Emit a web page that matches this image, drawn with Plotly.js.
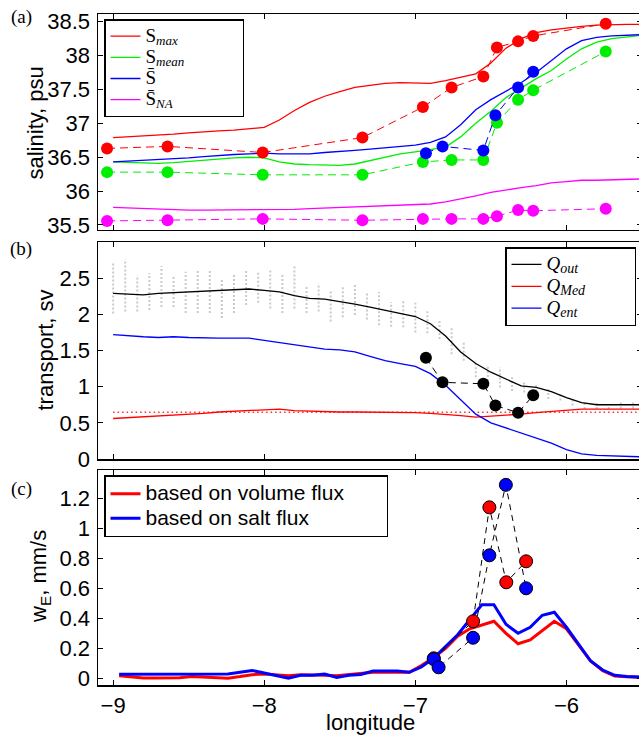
<!DOCTYPE html>
<html><head><meta charset="utf-8">
<script src="https://cdn.plot.ly/plotly-3.0.1.min.js"></script>
<style>html,body{margin:0;padding:0;overflow:hidden;background:#fff}</style>
</head><body><div id="chart" style="width:642px;height:741px"></div>
<script>
// ---------- Panel (a): salinity ----------
const lonLine = [-9.0,-8.9,-8.8,-8.7,-8.6,-8.5,-8.4,-8.3,-8.2,-8.1,-8.0,-7.9,-7.8,-7.7,-7.6,-7.5,-7.4,-7.3,-7.2,-7.1,-7.0,-6.9,-6.8,-6.7,-6.6,-6.5,-6.4,-6.3,-6.2,-6.1,-6.0,-5.9,-5.8,-5.7,-5.6,-5.5];
const sMax  = [36.79,36.80,36.81,36.82,36.84,36.86,36.88,36.89,36.90,36.92,36.94,37.05,37.19,37.31,37.40,37.47,37.53,37.56,37.59,37.60,37.59,37.59,37.63,37.68,37.73,37.89,38.11,38.25,38.34,38.38,38.41,38.43,38.45,38.46,38.46,38.46];
const sMean = [36.43,36.42,36.41,36.41,36.42,36.44,36.46,36.48,36.49,36.50,36.49,36.43,36.40,36.39,36.38,36.38,36.40,36.45,36.50,36.55,36.58,36.62,36.65,36.80,37.00,37.18,37.38,37.52,37.66,37.78,37.95,38.10,38.20,38.25,38.28,38.30];
const sBar  = [36.43,36.44,36.45,36.46,36.47,36.49,36.51,36.53,36.54,36.55,36.56,36.55,36.55,36.55,36.57,36.58,36.60,36.62,36.64,36.66,36.68,36.72,36.80,36.98,37.20,37.35,37.48,37.60,37.75,37.93,38.10,38.22,38.27,38.29,38.30,38.31];
const sNA   = [35.76,35.75,35.75,35.74,35.73,35.72,35.72,35.72,35.72,35.72,35.72,35.73,35.73,35.74,35.75,35.76,35.77,35.77,35.78,35.79,35.80,35.81,35.84,35.88,35.93,35.98,36.02,36.05,36.08,36.12,36.14,36.16,36.16,36.17,36.17,36.18];

const stLonA   = [-9.04,-8.64,-8.01,-7.35,-6.95,-6.76,-6.55,-6.46,-6.32,-6.22,-5.74];
const stMax    = [36.63,36.66,36.57,36.79,37.24,37.53,37.69,38.12,38.21,38.29,38.47];
const stMean   = [36.28,36.28,36.24,36.24,36.43,36.46,36.46,37.01,37.35,37.49,38.06];
const stNA     = [35.56,35.57,35.59,35.57,35.59,35.59,35.59,35.63,35.72,35.71,35.74];
const stLonB   = [-6.93,-6.82,-6.55,-6.47,-6.32,-6.22];
const stBar    = [36.56,36.66,36.60,37.12,37.53,37.76];

// ---------- Panel (b): transport ----------
const qOut = [2.29,2.28,2.27,2.29,2.30,2.31,2.32,2.33,2.35,2.35,2.33,2.31,2.26,2.22,2.21,2.18,2.14,2.10,2.06,2.02,1.97,1.87,1.70,1.48,1.32,1.20,1.10,1.01,0.99,0.93,0.85,0.78,0.75,0.75,0.75,0.75];
const qMed = [0.56,0.57,0.58,0.60,0.61,0.62,0.63,0.65,0.66,0.68,0.69,0.69,0.67,0.66,0.66,0.65,0.65,0.65,0.65,0.64,0.64,0.63,0.62,0.60,0.58,0.59,0.61,0.62,0.64,0.66,0.68,0.69,0.69,0.69,0.69,0.69];
const qEnt = [1.72,1.70,1.69,1.68,1.69,1.68,1.67,1.67,1.67,1.67,1.64,1.61,1.58,1.55,1.52,1.51,1.48,1.42,1.36,1.32,1.28,1.18,1.02,0.82,0.62,0.50,0.43,0.36,0.30,0.22,0.13,0.07,0.05,0.04,0.03,0.03];
const qMedRefLon = [-9.0,-5.5];
const qMedRef    = [0.645,0.645];
const qStOut     = [1.40,1.06,1.04,0.74,0.64,0.88];

// gray ensemble columns (range of scatter at each longitude)
const grayLon = [-9.00,-8.92,-8.84,-8.76,-8.68,-8.60,-8.52,-8.44,-8.36,-8.28,-8.20,-8.12,-8.04,-7.96,-7.88,-7.80,-7.72,-7.64,-7.56,-7.48,-7.40,-7.32,-7.24,-7.16,-7.08,-7.00,-6.92,-6.84,-6.76,-6.68,-6.60,-6.52,-6.44,-6.36,-6.28,-6.20,-6.12,-6.04,-5.96,-5.88,-5.80,-5.72,-5.64,-5.56];
const grayLow = [2.01,2.04,2.04,2.06,2.10,2.10,2.02,2.02,2.02,1.95,2.02,2.13,2.16,2.08,2.02,2.08,2.02,2.04,1.90,1.96,1.99,1.93,1.85,1.83,1.82,1.75,1.74,1.66,1.45,1.36,1.13,1.08,0.99,0.94,0.92,0.88,0.83,0.81,0.74,0.69,0.69,0.69,0.70,0.70];
const grayHigh= [2.71,2.76,2.54,2.57,2.67,2.54,2.59,2.62,2.60,2.50,2.57,2.60,2.60,2.61,2.57,2.69,2.40,2.43,2.34,2.40,2.43,2.31,2.31,2.17,2.18,2.16,2.06,1.91,1.82,1.62,1.36,1.29,1.27,1.13,1.06,1.04,0.97,0.92,0.83,0.78,0.78,0.76,0.78,0.78];

// ---------- Panel (c): entrainment velocity ----------
const lonW = [-8.96,-8.88,-8.80,-8.72,-8.64,-8.56,-8.48,-8.40,-8.32,-8.24,-8.16,-8.08,-8.00,-7.92,-7.84,-7.76,-7.68,-7.60,-7.52,-7.44,-7.36,-7.28,-7.20,-7.12,-7.04,-6.96,-6.88,-6.80,-6.72,-6.64,-6.56,-6.48,-6.40,-6.32,-6.24,-6.16,-6.08,-6.00,-5.92,-5.84,-5.76,-5.68,-5.60,-5.52];
const wVol  = [0.017,0.008,0.002,0.001,0.002,0.004,0.011,0.009,0.006,0.000,0.011,0.024,0.029,0.024,0.016,0.024,0.024,0.020,0.016,0.024,0.027,0.040,0.040,0.040,0.040,0.085,0.137,0.200,0.280,0.330,0.355,0.380,0.300,0.230,0.255,0.315,0.380,0.330,0.220,0.115,0.050,0.015,0.010,0.007];
const wSalt = [0.027,0.027,0.027,0.026,0.026,0.025,0.025,0.025,0.027,0.028,0.040,0.052,0.035,0.015,0.000,0.020,0.020,0.028,0.005,0.020,0.025,0.049,0.048,0.048,0.040,0.075,0.133,0.210,0.290,0.390,0.490,0.490,0.360,0.300,0.340,0.420,0.440,0.340,0.225,0.115,0.055,0.020,0.012,0.008];
const wStLonVol  = [-6.878,-6.618,-6.510,-6.398,-6.267];
const wStVol     = [0.133,0.38,1.14,0.64,0.78];
const wStLonSalt = [-6.878,-6.846,-6.618,-6.510,-6.401,-6.267];
const wStSalt    = [0.127,0.073,0.27,0.82,1.29,0.60];

// ---------- ticks ----------
const xTickVals = [-9,-8,-7,-6];
const xTickText = ['\u22129','\u22128','\u22127','\u22126'];
const yTickA = [35.5,36,36.5,37,37.5,38,38.5];
const yTextA = ['35.5','36','36.5','37','37.5','38','38.5'];
const yTickB = [0,0.5,1,1.5,2,2.5];
const yTextB = ['0','0.5','1','1.5','2','2.5'];
const yTickC = [0,0.2,0.4,0.6,0.8,1.0,1.2];
const yTextC = ['0','0.2','0.4','0.6','0.8','1','1.2'];

const SANS = 'Liberation Sans, Arial, Helvetica, sans-serif';
const SERIF = 'Liberation Serif, DejaVu Serif, serif';
const RED='#ff0000', GREEN='#00ee00', BLUE='#0000ff', MAG='#ff00ff';

// legend label helpers (text styling only)
const PAD = n => '\u00a0'.repeat(n);
const big = (t,s) => '<span style="font-size:'+s+'px">'+t+'</span>';
const subI = (t,s) => '<sub><span style="font-size:'+s+'px"><i>'+t+'</i></span></sub>';

// build gray column segments
const gx=[], gy=[];
grayLon.forEach((lon,i)=>{ gx.push(lon,lon,null); gy.push(grayLow[i],grayHigh[i],null); });

const traces = [
  // panel a lines
  {x:lonLine,y:sMax,mode:'lines',line:{color:RED,width:1.3},name:big('S',19)+subI('max',13),legend:'legend',xaxis:'x',yaxis:'y'},
  {x:lonLine,y:sMean,mode:'lines',line:{color:GREEN,width:1.3},name:big('S',19)+subI('mean',13)+PAD(15),legend:'legend',xaxis:'x',yaxis:'y'},
  {x:lonLine,y:sBar,mode:'lines',line:{color:BLUE,width:1.3},name:big('S\u0304',19),legend:'legend',xaxis:'x',yaxis:'y'},
  {x:lonLine,y:sNA,mode:'lines',line:{color:MAG,width:1.3},name:big('S\u0304',19)+subI('NA',13),legend:'legend',xaxis:'x',yaxis:'y'},
  // panel a stations
  {x:stLonA,y:stMax,mode:'lines+markers',line:{color:RED,width:1,dash:'8px,5px'},marker:{color:RED,size:12},showlegend:false,xaxis:'x',yaxis:'y'},
  {x:stLonA,y:stMean,mode:'lines+markers',line:{color:GREEN,width:1,dash:'8px,5px'},marker:{color:GREEN,size:12},showlegend:false,xaxis:'x',yaxis:'y'},
  {x:stLonB,y:stBar,mode:'lines+markers',line:{color:BLUE,width:1,dash:'8px,5px'},marker:{color:BLUE,size:12},showlegend:false,xaxis:'x',yaxis:'y'},
  {x:stLonA,y:stNA,mode:'lines+markers',line:{color:MAG,width:1,dash:'8px,5px'},marker:{color:MAG,size:12},showlegend:false,xaxis:'x',yaxis:'y'},
  // panel b
  {x:gx,y:gy,mode:'lines',line:{color:'#cacaca',width:2,dash:'2px,2px'},showlegend:false,connectgaps:false,xaxis:'x2',yaxis:'y2'},
  {x:qMedRefLon,y:qMedRef,mode:'lines',line:{color:'#ff3030',width:1.5,dash:'1.5px,3px'},showlegend:false,xaxis:'x2',yaxis:'y2'},
  {x:lonLine,y:qOut,mode:'lines',line:{color:'black',width:1.3},name:big('<i>Q</i>',19)+subI('out',14)+PAD(14),legend:'legend2',xaxis:'x2',yaxis:'y2'},
  {x:lonLine,y:qMed,mode:'lines',line:{color:RED,width:1.3},name:big('<i>Q</i>',19)+subI('Med',14),legend:'legend2',xaxis:'x2',yaxis:'y2'},
  {x:lonLine,y:qEnt,mode:'lines',line:{color:BLUE,width:1.3},name:big('<i>Q</i>',19)+subI('ent',14),legend:'legend2',xaxis:'x2',yaxis:'y2'},
  {x:stLonB,y:qStOut,mode:'lines+markers',line:{color:'black',width:1,dash:'7px,5px'},marker:{color:'black',size:12},showlegend:false,xaxis:'x2',yaxis:'y2'},
  // panel c
  {x:lonW,y:wVol,mode:'lines',line:{color:RED,width:3},name:big('based on volume flux',21)+PAD(8),legend:'legend3',xaxis:'x3',yaxis:'y3'},
  {x:lonW,y:wSalt,mode:'lines',line:{color:BLUE,width:3},name:big('based on salt flux',21),legend:'legend3',xaxis:'x3',yaxis:'y3'},
  {x:wStLonVol,y:wStVol,mode:'lines',line:{color:'black',width:1,dash:'6px,5px'},showlegend:false,xaxis:'x3',yaxis:'y3'},
  {x:wStLonSalt,y:wStSalt,mode:'lines',line:{color:'black',width:1,dash:'6px,5px'},showlegend:false,xaxis:'x3',yaxis:'y3'},
  {x:wStLonVol,y:wStVol,mode:'markers',marker:{color:RED,size:13,line:{color:'black',width:1}},showlegend:false,xaxis:'x3',yaxis:'y3'},
  {x:wStLonSalt,y:wStSalt,mode:'markers',marker:{color:BLUE,size:13,line:{color:'black',width:1}},showlegend:false,xaxis:'x3',yaxis:'y3'}
];

const axBase = {showline:true,linecolor:'black',linewidth:1.5,mirror:'ticks',ticks:'inside',ticklen:5,tickwidth:1,tickcolor:'black',zeroline:false,showgrid:false,tickfont:{family:SANS,size:22,color:'black'},automargin:false};
const xBase = Object.assign({},axBase,{range:[-9.1,-5.5],tickmode:'array',tickvals:xTickVals,ticktext:xTickText,domain:[0,1]});
const titleFont = {family:SANS,size:22,color:'black'};
const legBase = {xanchor:'left',yanchor:'top',bgcolor:'white',bordercolor:'black',borderwidth:1.5,tracegroupgap:0};
// paper-coordinate helpers for text placement (plot area: x 98..642, y 14..685)
const px = v => (v-98)/544, py = v => (685-v)/671;

const layout = {
  width:642,height:741,margin:{l:98,r:0,t:14,b:56,autoexpand:false},
  paper_bgcolor:'white',plot_bgcolor:'white',
  xaxis: Object.assign({},xBase,{anchor:'y',showticklabels:false}),
  xaxis2:Object.assign({},xBase,{anchor:'y2',showticklabels:false}),
  xaxis3:Object.assign({},xBase,{anchor:'y3',ticklabelstandoff:0}),
  yaxis: Object.assign({},axBase,{anchor:'x',domain:[0.6781,1],range:[35.426,38.614],tickmode:'array',tickvals:yTickA,ticktext:yTextA,ticklabelstandoff:2}),
  yaxis2:Object.assign({},axBase,{anchor:'x2',domain:[0.3368,0.6602],range:[0,3],tickmode:'array',tickvals:yTickB,ticktext:yTextB,ticklabelstandoff:2}),
  yaxis3:Object.assign({},axBase,{anchor:'x3',domain:[0,0.3204],range:[-0.045,1.389],tickmode:'array',tickvals:yTickC,ticktext:yTextC,ticklabelstandoff:2}),
  legend: Object.assign({},legBase,{x:px(104),y:py(19),font:{family:SERIF,size:14,color:'black'}}),
  legend2:Object.assign({},legBase,{x:px(505),y:py(247),font:{family:SERIF,size:14.5,color:'black'}}),
  legend3:Object.assign({},legBase,{x:px(104),y:py(475),font:{family:SANS,size:16.5,color:'black'}}),
  showlegend:true,
  annotations:[
    {text:'salinity, psu',xref:'paper',yref:'paper',x:px(35),y:py(123.5),textangle:-90,xanchor:'center',yanchor:'middle',showarrow:false,font:titleFont},
    {text:'transport, sv',xref:'paper',yref:'paper',x:px(45),y:py(350.5),textangle:-90,xanchor:'center',yanchor:'middle',showarrow:false,font:titleFont},
    {text:'w<sub>E</sub>, mm/s',xref:'paper',yref:'paper',x:px(40),y:py(577),textangle:-90,xanchor:'center',yanchor:'middle',showarrow:false,font:titleFont},
    {text:'longitude',xref:'paper',yref:'paper',x:px(370),y:py(722),xanchor:'center',yanchor:'middle',showarrow:false,font:titleFont},
    {text:'(a)',xref:'paper',yref:'paper',x:px(21.5),y:py(17.5),xanchor:'center',yanchor:'middle',showarrow:false,font:{family:SERIF,size:19,color:'black'}},
    {text:'(b)',xref:'paper',yref:'paper',x:px(21),y:py(249),xanchor:'center',yanchor:'middle',showarrow:false,font:{family:SERIF,size:19,color:'black'}},
    {text:'(c)',xref:'paper',yref:'paper',x:px(21.5),y:py(488.5),xanchor:'center',yanchor:'middle',showarrow:false,font:{family:SERIF,size:19,color:'black'}}
  ]
};

Plotly.newPlot('chart',traces,layout,{displayModeBar:false,staticPlot:true});
</script></body></html>
